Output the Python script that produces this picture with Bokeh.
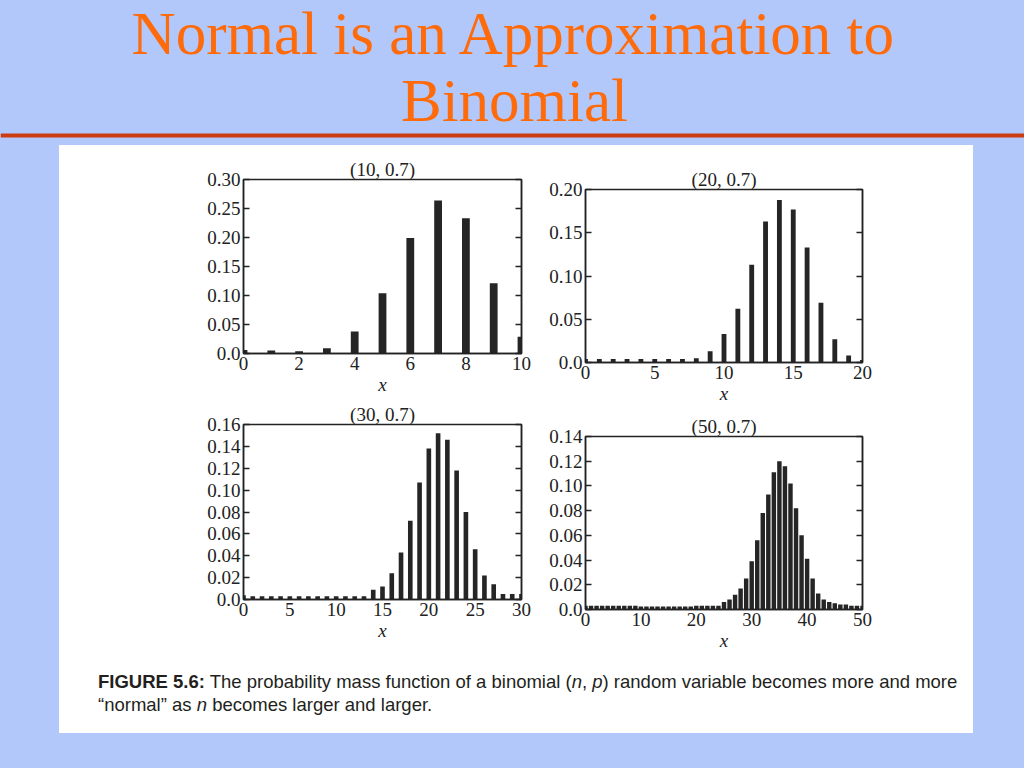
from bokeh.plotting import figure
from bokeh.models import Range1d, FixedTicker, LinearAxis, CustomJSTickFormatter, Div, Spacer
from bokeh.layouts import column, row
from bokeh.embed import file_html
from bokeh.resources import INLINE
from bokeh.core.properties import value

# ---------------- data ----------------
slide_title = ["Normal is an Approximation to", "Binomial"]

titles = ["(10, 0.7)", "(20, 0.7)", "(30, 0.7)", "(50, 0.7)"]
n_values = [10, 20, 30, 50]

pmf_10 = [0.006, 0.005, 0.004, 0.009, 0.038, 0.104, 0.199, 0.264, 0.233, 0.121, 0.029]
pmf_20 = [0.004, 0.004, 0.004, 0.004, 0.004, 0.004, 0.004, 0.004, 0.005,
          0.013, 0.033, 0.062, 0.113, 0.163, 0.188, 0.177, 0.133, 0.069, 0.027, 0.008, 0.003]
pmf_30 = [0.004, 0.003, 0.003, 0.003, 0.003, 0.003, 0.003, 0.003, 0.003, 0.003,
          0.003, 0.003, 0.003, 0.003, 0.009, 0.012, 0.024, 0.043, 0.072, 0.107,
          0.138, 0.152, 0.146, 0.118, 0.080, 0.046, 0.022, 0.014, 0.005, 0.005, 0.005]
pmf_50 = [0.003, 0.003, 0.003, 0.003, 0.003, 0.003, 0.003, 0.003, 0.003, 0.003,
          0.0025, 0.0025, 0.0025, 0.0025, 0.0025, 0.0025, 0.0025, 0.0025, 0.0025, 0.0025,
          0.003, 0.003, 0.003, 0.003, 0.003, 0.006, 0.008, 0.012, 0.017, 0.025,
          0.039, 0.056, 0.078, 0.093, 0.111, 0.120, 0.116, 0.102, 0.082, 0.060,
          0.041, 0.025, 0.013, 0.008, 0.006, 0.005, 0.004, 0.004, 0.003, 0.003, 0.003]

x_ticks_10 = [0, 2, 4, 6, 8, 10]
x_ticks_20 = [0, 5, 10, 15, 20]
x_ticks_30 = [0, 5, 10, 15, 20, 25, 30]
x_ticks_50 = [0, 10, 20, 30, 40, 50]

y_ticks_10 = [0.0, 0.05, 0.10, 0.15, 0.20, 0.25, 0.30]
y_labels_10 = ["0.0", "0.05", "0.10", "0.15", "0.20", "0.25", "0.30"]
y_ticks_20 = [0.0, 0.05, 0.10, 0.15, 0.20]
y_labels_20 = ["0.0", "0.05", "0.10", "0.15", "0.20"]
y_ticks_30 = [0.0, 0.02, 0.04, 0.06, 0.08, 0.10, 0.12, 0.14, 0.16]
y_labels_30 = ["0.0", "0.02", "0.04", "0.06", "0.08", "0.10", "0.12", "0.14", "0.16"]
y_ticks_50 = [0.0, 0.02, 0.04, 0.06, 0.08, 0.10, 0.12, 0.14]
y_labels_50 = ["0.0", "0.02", "0.04", "0.06", "0.08", "0.10", "0.12", "0.14"]

x_axis_label = "x"

# ---------------- style ----------------
BLUE = "#B2C8FA"
ORANGE = "#FF6A0A"
RULE = "#CC3A10"
INK = "#222222"
SERIF = "Liberation Serif"


def label_formatter(tv, tl):
    return CustomJSTickFormatter(
        args=dict(tv=tv, tl=tl),
        code="const i = tv.findIndex(t => Math.abs(t - tick) < 1e-9); return i >= 0 ? tl[i] : '';")


def make_plot(n, pmf, title, xt, yt, yl, bar_w, width, height, bl, br, bt, bb):
    xs = list(range(n + 1))
    p = figure(width=width, height=height, output_backend="svg", toolbar_location=None,
               x_range=Range1d(0, n), y_range=Range1d(0, yt[-1]),
               min_border_left=bl, min_border_right=br, min_border_top=bt, min_border_bottom=bb,
               background_fill_color="white", border_fill_color="white",
               outline_line_color=INK, outline_line_width=1.5)
    p.vbar(x=xs, top=pmf, width=bar_w, bottom=0, fill_color="#252525", line_color=None)

    p.title.text = title
    p.title.align = "center"
    p.title.text_font = SERIF
    p.title.text_font_style = "normal"
    p.title.text_font_size = "19px"
    p.title.text_color = INK
    p.title.standoff = 0

    xa = p.xaxis[0]
    xa.ticker = FixedTicker(ticks=xt)
    xa.major_tick_in = 0
    xa.major_tick_out = 0
    xa.minor_tick_line_color = None
    xa.axis_line_width = 1.5
    xa.axis_line_color = INK
    xa.major_label_text_font = SERIF
    xa.major_label_text_font_size = "19px"
    xa.major_label_text_color = INK
    xa.major_label_standoff = 3
    xa.axis_label = x_axis_label
    xa.axis_label_text_font = SERIF
    xa.axis_label_text_font_style = "italic"
    xa.axis_label_text_font_size = "19px"
    xa.axis_label_text_color = INK
    xa.axis_label_standoff = 1

    ya = p.yaxis[0]
    ya.ticker = FixedTicker(ticks=yt)
    ya.formatter = label_formatter(yt, yl)
    ya.major_tick_in = 6
    ya.major_tick_out = 0
    ya.major_tick_line_width = 1.5
    ya.major_tick_line_color = INK
    ya.minor_tick_line_color = None
    ya.axis_line_width = 1.5
    ya.axis_line_color = INK
    ya.major_label_text_font = SERIF
    ya.major_label_text_font_size = "19px"
    ya.major_label_text_color = INK
    ya.major_label_standoff = 3

    ra = LinearAxis(ticker=FixedTicker(ticks=yt),
                    formatter=CustomJSTickFormatter(code="return '';"))
    ra.major_tick_in = 6
    ra.major_tick_out = 0
    ra.major_tick_line_width = 1.5
    ra.major_tick_line_color = INK
    ra.minor_tick_line_color = None
    ra.axis_line_width = 1.5
    ra.axis_line_color = INK
    ra.major_label_standoff = 0
    p.add_layout(ra, "right")

    p.xgrid.visible = False
    p.ygrid.visible = False
    return p


p1 = make_plot(n_values[0], pmf_10, titles[0], x_ticks_10, y_ticks_10, y_labels_10, 0.28,
               481, 255, 184, 13, 34, 47)
p3 = make_plot(n_values[2], pmf_30, titles[2], x_ticks_30, y_ticks_30, y_labels_30, 0.5,
               481, 260, 173, 19, 24, 61)
p2 = make_plot(n_values[1], pmf_20, titles[1], x_ticks_20, y_ticks_20, y_labels_20, 0.35,
               433, 267, 45, 105, 44, 50)
p4 = make_plot(n_values[3], pmf_50, titles[3], x_ticks_50, y_ticks_50, y_labels_50, 0.8,
               433, 248, 42, 111, 24, 51)

# header with slide title and rule
header = figure(width=1024, height=145, output_backend="svg", toolbar_location=None,
                title=None,
                x_range=Range1d(0, 1024), y_range=Range1d(0, 145),
                x_axis_type=None, y_axis_type=None, min_border=0,
                background_fill_color=BLUE, border_fill_color=BLUE, outline_line_color=None)
header.xgrid.visible = False
header.ygrid.visible = False
header.text(x=[514, 514], y=[112.5, 45.5], text=slide_title, text_align="center",
            text_baseline="alphabetic", text_font=value(SERIF), text_font_size="61px",
            text_color=ORANGE)
header.segment(x0=[0], x1=[1024], y0=[10], y1=[10], line_width=4, line_color=RULE)

caption_html = (
    '<div style="width:914px;height:73px;background:white;box-sizing:border-box;'
    'padding-left:39px;padding-top:10px;font-family:\'Liberation Sans\',sans-serif;'
    'font-size:18.5px;line-height:23px;color:#231f20;white-space:nowrap;">'
    '<b>FIGURE 5.6:</b> The probability mass function of a binomial (<i>n</i>, <i>p</i>) '
    'random variable becomes more and more<br>'
    '&ldquo;normal&rdquo; as <i>n</i> becomes larger and larger.</div>'
)
caption = Div(text=caption_html, width=914, height=73, margin=0,
              styles={"background-color": "white"})

left_col = column(p1, p3, spacing=0, styles={"background-color": "white"})
right_col = column(p2, p4, spacing=0, styles={"background-color": "white"})
panel = column(row(left_col, right_col, spacing=0, styles={"background-color": "white"}),
               caption, spacing=0, styles={"background-color": "white"})
middle = row(Spacer(width=59, height=588), panel, Spacer(width=51, height=588), spacing=0)
root = column(header, middle, Spacer(width=1024, height=35), spacing=0,
              width=1024, height=768, styles={"background-color": BLUE})

open("out.html", "w").write(file_html(root, INLINE))
